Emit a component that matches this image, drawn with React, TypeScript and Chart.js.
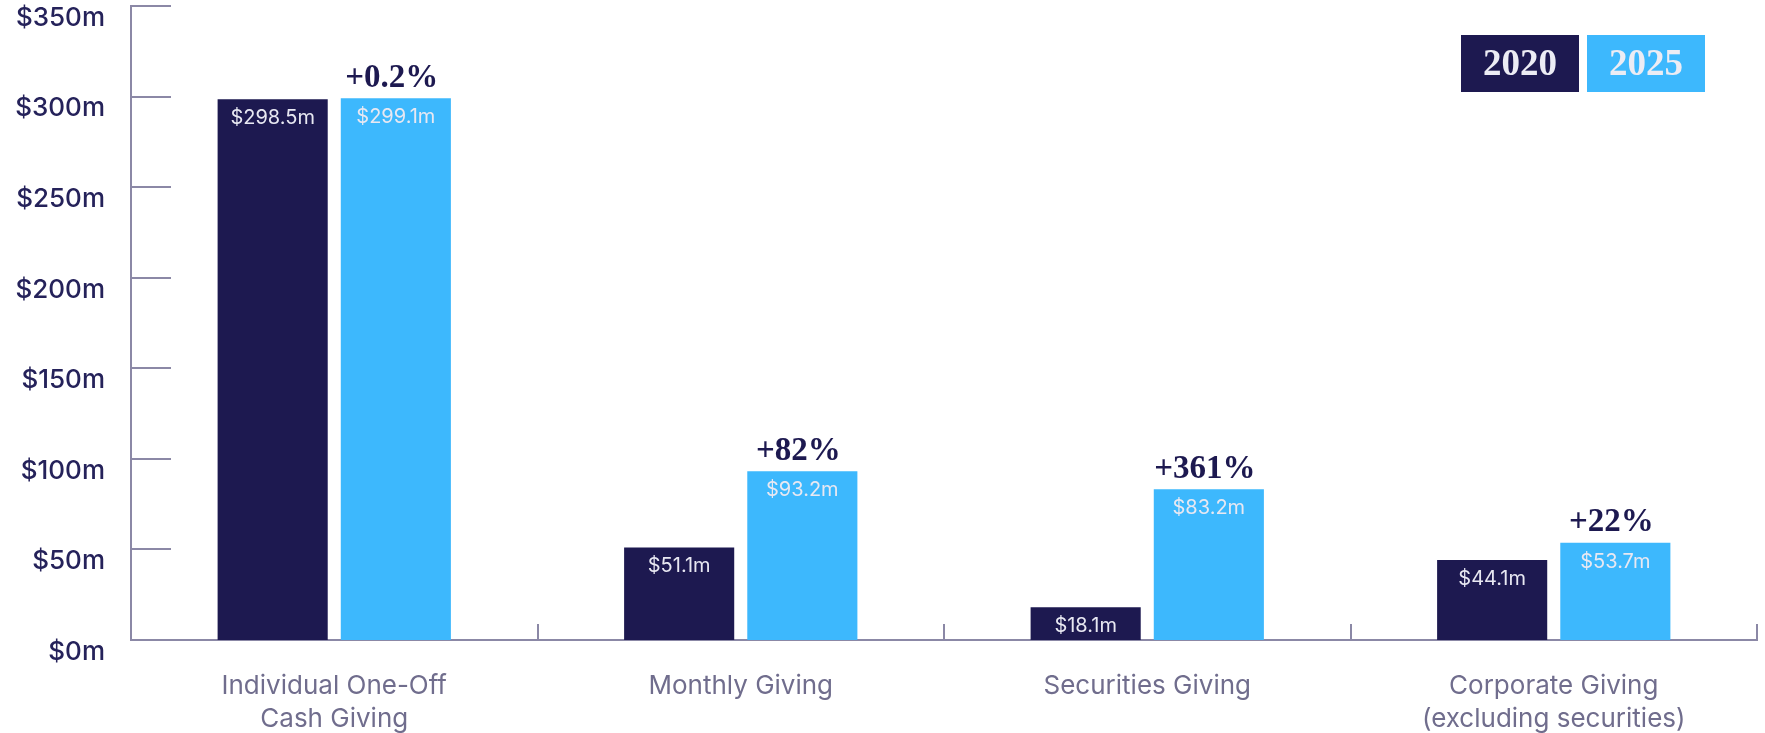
import React, { useEffect, useRef } from "react";
import { Chart, registerables } from "chart.js";

Chart.register(...registerables);

const categories: (string | string[])[] = [
  ["Individual One-Off", "Cash Giving"],
  "Monthly Giving",
  "Securities Giving",
  ["Corporate Giving", "(excluding securities)"],
];
const seriesNames = ["2020", "2025"];
const values2020 = [298.5, 51.1, 18.1, 44.1];
const values2025 = [299.1, 93.2, 83.2, 53.7];
const changeLabels = ["+0.2%", "+82%", "+361%", "+22%"];
const yTicks = [0, 50, 100, 150, 200, 250, 300, 350];

const DARK = "#1d1950";
const LIGHT = "#3db8fd";
const AXIS = "#8b88a6";
const NAVY_TEXT = "#25225a";
const SANS = "Inter, 'Noto Sans', sans-serif";
const SERIF = "'Liberation Serif', 'DejaVu Serif', serif";

const fmt = (v: number) => `$${v.toFixed(1)}m`;

const decorPlugin = {
  id: "decor",
  afterDatasetsDraw(chart: any) {
    const ctx = chart.ctx as CanvasRenderingContext2D;
    const y = chart.scales.y;
    const x = chart.scales.x;
    const area = chart.chartArea;
    ctx.save();
    ctx.strokeStyle = AXIS;
    ctx.lineWidth = 2;
    yTicks.forEach((t) => {
      const py = Math.round(y.getPixelForValue(t));
      ctx.beginPath();
      ctx.moveTo(area.left, py);
      ctx.lineTo(area.left + 40, py);
      ctx.stroke();
    });
    for (let i = 0; i < categories.length; i++) {
      const px = Math.round(x.getPixelForValue(i + 0.5));
      ctx.beginPath();
      ctx.moveTo(px, area.bottom);
      ctx.lineTo(px, area.bottom - 16);
      ctx.stroke();
    }
    ctx.font = `20px ${SANS}`;
    ctx.fillStyle = "#e8e8f2";
    ctx.textAlign = "center";
    ctx.textBaseline = "middle";
    chart.data.datasets.forEach((ds: any, di: number) => {
      const meta = chart.getDatasetMeta(di);
      meta.data.forEach((bar: any, i: number) => {
        ctx.fillText(fmt(ds.data[i]), bar.x, bar.y + 19);
      });
    });
    ctx.font = `bold 33px ${SERIF}`;
    ctx.fillStyle = DARK;
    const meta2 = chart.getDatasetMeta(1);
    meta2.data.forEach((bar: any, i: number) => {
      ctx.fillText(changeLabels[i], bar.x - 4, bar.y - 20);
    });
    const boxW = 118;
    const boxH = 57;
    const boxTop = 35;
    const lefts = [1461, 1587];
    ctx.font = `bold 37px ${SERIF}`;
    chart.data.datasets.forEach((ds: any, di: number) => {
      ctx.fillStyle = ds.backgroundColor;
      ctx.fillRect(lefts[di], boxTop, boxW, boxH);
      ctx.fillStyle = "#ececf4";
      ctx.fillText(ds.label, lefts[di] + boxW / 2, boxTop + boxH / 2 + 2);
    });
    ctx.restore();
  },
};

export default function App() {
  const ref = useRef<HTMLCanvasElement | null>(null);
  useEffect(() => {
    if (!ref.current) return;
    const chart = new Chart(ref.current, {
      type: "bar",
      data: {
        labels: categories as any,
        datasets: [
          {
            label: seriesNames[0],
            data: values2020,
            backgroundColor: DARK,
            categoryPercentage: 0.606,
            barPercentage: 0.894,
          },
          {
            label: seriesNames[1],
            data: values2025,
            backgroundColor: LIGHT,
            categoryPercentage: 0.606,
            barPercentage: 0.894,
          },
        ],
      },
      options: {
        responsive: false,
        animation: false,
        layout: { padding: { top: 6, right: 8, left: 0, bottom: 0 } },
        plugins: {
          legend: { display: false },
          tooltip: { enabled: false },
        },
        scales: {
          x: {
            grid: { display: false, drawTicks: false },
            border: { display: true, color: AXIS, width: 2 },
            ticks: {
              color: "#706d8d",
              font: { family: SANS, size: 26, lineHeight: 1.27 },
              padding: 30,
              maxRotation: 0,
              autoSkip: false,
            },
            afterFit: (s: any) => {
              s.height = 93;
              s.paddingLeft = 0;
              s.paddingRight = 0;
            },
          },
          y: {
            min: 0,
            max: 350,
            afterBuildTicks: (s: any) => {
              s.ticks = yTicks.map((v) => ({ value: v }));
            },
            grid: { display: false, drawTicks: false },
            border: { display: true, color: AXIS, width: 2 },
            ticks: {
              color: NAVY_TEXT,
              font: { family: SANS, size: 26, weight: "500" },
              padding: 26,
              labelOffset: 12,
              callback: (v: any) => `$${v}m`,
            },
            afterFit: (s: any) => {
              s.width = 131;
              s.paddingTop = 0;
              s.paddingBottom = 0;
            },
          },
        },
      },
      plugins: [decorPlugin],
    });
    return () => chart.destroy();
  }, []);
  return (
    <div style={{ position: "absolute", left: 0, top: 0, width: 1765, height: 733, background: "#fff" }}>
      <canvas ref={ref} width={1765} height={733} style={{ display: "block" }} />
    </div>
  );
}
